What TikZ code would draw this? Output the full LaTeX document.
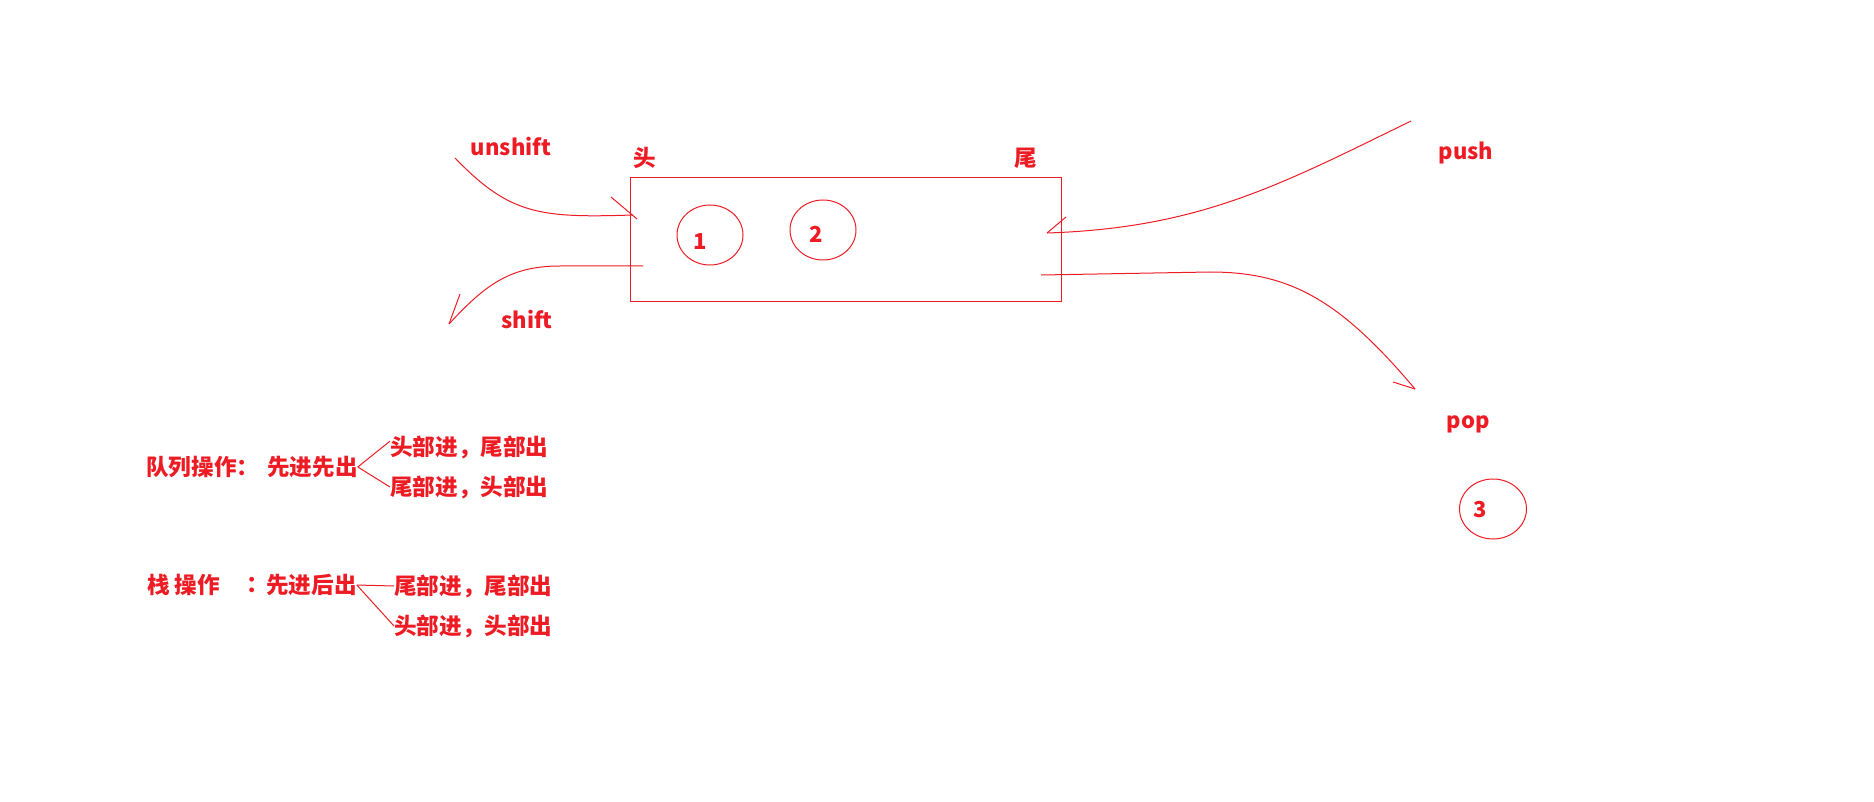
\documentclass[tikz,border=0pt]{standalone}
\usepackage{fontspec}
\newfontfamily\cjk{Noto Sans CJK SC}
\usetikzlibrary{shapes.geometric, calc}
\definecolor{inkred}{RGB}{237,28,36}

\begin{document}
\begin{tikzpicture}[
    x=1pt, y=-1pt,
    lbl/.style={text=inkred, font=\cjk\bfseries\fontsize{22}{26}\selectfont, inner sep=0pt},
    zh/.style={lbl, font=\cjk\bfseries\fontsize{22.6}{26}\selectfont},
    ring/.style={draw=inkred, ellipse, line width=1pt, minimum width=66pt, minimum height=60pt, inner sep=0pt},
    pen/.style={draw=inkred, line width=1pt}
]
\useasboundingbox (0,0) rectangle (1874,802);

% the list
\node[draw=inkred, line width=1.2pt, minimum width=431pt, minimum height=124pt, anchor=north west] (list) at (630,177) {};
\node[zh] (head) at (645,158) {头};
\node[zh] (tail) at (1026,158) {尾};

\node[ring] (c1) at (710,235) {};
\node[lbl] (n1) at ([shift={(-10,7)}]c1.center) {1};
\node[ring] (c2) at (823,230) {};
\node[lbl] (n2) at ([shift={(-7,4)}]c2.center) {2};
\node[ring, minimum width=67pt] (c3) at (1493,509) {};
\node[lbl] (n3) at ([shift={(-13,1)}]c3.center) {3};

% operation names
\node[lbl, anchor=base] (unshift) at (511,156) {unshift};
\node[lbl, anchor=base] (shift) at (527,328) {shift};
\node[lbl, anchor=base] (push) at (1466,160) {push};
\node[lbl, anchor=base] (pop) at (1468,428) {pop};

% curve ends
\coordinate (us) at (455,158);
\coordinate (ue) at (633,215);
\coordinate (ss) at (643,266);
\coordinate (se) at (449,324);
\coordinate (ps) at (1411,121);
\coordinate (pe) at (1047,233);
\coordinate (os) at (1041,275);
\coordinate (oe) at (1415,389);

\draw[pen] (us) .. controls (510,215) and (540,218) .. (ue);
\draw[pen] (ue) ++(-22,-18) -- ++(26,22);
\draw[pen] (ss) -- (560,266) .. controls (510,266) and (485,285) .. (se);
\draw[pen] (se) -- ++(11,-30);
\draw[pen] (ps) .. controls (1280,185) and (1200,228) .. (pe);
\draw[pen] (pe) -- ++(19,-16);
\draw[pen] (os) -- (1210,272) .. controls (1290,272) and (1340,300) .. (oe);
\draw[pen] (oe) -- ++(-22,-7);

% queue
\node[zh, anchor=west] (qname) at (146,467) {队列操作：};
\node[zh, anchor=west] (qrule) at (267,467) {先进先出};
\node[zh, anchor=west] (q1) at (390,447) {头部进，尾部出};
\node[zh, anchor=west] (q2) at (390,487) {尾部进，头部出};
\draw[pen] (qrule.east) -- ($(q1.west)!0.5!(q1.north west)$);
\draw[pen] (qrule.east) -- (q2.west);

% stack
\node[zh, anchor=west] (sname) at (147,585) {栈 操作};
\node[zh, anchor=west] (scolon) at (246,585) {：};
\node[zh, anchor=west] (srule) at (266,585) {先进后出};
\node[zh, anchor=west] (s1) at (394,586) {尾部进，尾部出};
\node[zh, anchor=west] (s2) at (394,626) {头部进，头部出};
\draw[pen] (srule.east) -- (s1.west);
\draw[pen] (srule.east) -- (s2.west);
\end{tikzpicture}
\end{document}
